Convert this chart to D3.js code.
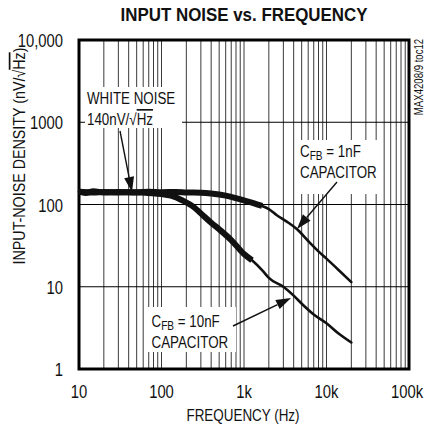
<!DOCTYPE html>
<html>
<head>
<meta charset="utf-8">
<script src="https://cdn.jsdelivr.net/npm/d3@7"></script>
<style>
  body { margin: 0; background: #fff; }
  svg text { font-family: "Liberation Sans", Arial, sans-serif; fill: #111; }
</style>
</head>
<body>
<script>
// axis ticks and labels
var freqTicks = [10, 100, 1000, 10000, 100000];
var freqLabels = ["10", "100", "1k", "10k", "100k"];
var noiseTicks = [1, 10, 100, 1000, 10000];
var noiseLabels = ["1", "10", "100", "1000", "10,000"];

// C_FB = 1nF curve
var freq1nF  = [10, 12, 15, 20, 30, 50, 70, 100, 150, 200, 300, 400, 500, 700, 1000, 1300, 1660, 2000, 2500, 3300, 4400, 6000, 8300, 10000, 14000, 20000];
var noise1nF = [143, 138, 145, 140, 142, 140, 143, 141, 142, 140, 139, 136, 132, 124, 112, 104, 96, 88, 74, 62, 50, 36, 26, 22, 16, 11.4];

// C_FB = 10nF curve
var freq10nF  = [10, 15, 20, 30, 50, 70, 100, 130, 180, 250, 300, 400, 500, 700, 1000, 1250, 1700, 2000, 3000, 4000, 5200, 7000, 10000, 14000, 20000];
var noise10nF = [143, 140, 142, 140, 141, 138, 134, 128, 112, 92, 78, 60, 50, 37, 25, 21, 15.5, 12.8, 10, 7.8, 6.0, 4.6, 3.6, 2.7, 2.1];

// where the measured trace stops being a wide noisy band
var noisyEnd1nF = 1700;
var noisyEnd10nF = 1250;

var w = 424;
var h = 432;

var x = d3.scaleLog().domain([10, 100000]).range([79, 409]);
var y = d3.scaleLog().domain([1, 10000]).range([369, 40]);

var svg = d3.select("body").append("svg")
  .attr("width", w)
  .attr("height", h);

// no narrow font installed, so squeeze the text sideways
function squeeze(g, px, py, sx, rot) {
  return g.append("text")
    .attr("transform", "translate(" + px + "," + py + ")" + (rot ? " rotate(" + rot + ")" : "") + " scale(" + sx + ",1)");
}

// title
squeeze(svg, 244, 20.5, 0.89)
  .attr("text-anchor", "middle")
  .style("font-size", "19px")
  .style("font-weight", "bold")
  .text("INPUT NOISE vs. FREQUENCY");

// vertical grid (every 1..9 per decade)
svg.append("g").selectAll("line")
  .data(x.ticks().filter(function(d) { return d > 10 && d < 100000; }))
  .enter().append("line")
  .attr("x1", d => x(d)).attr("x2", d => x(d))
  .attr("y1", y(10000)).attr("y2", y(1))
  .attr("stroke", "#3a3a3a")
  .attr("stroke-width", 1);

// horizontal grid, decades only
svg.append("g").selectAll("line")
  .data(noiseTicks.slice(1, -1))
  .enter().append("line")
  .attr("x1", x(10)).attr("x2", x(100000))
  .attr("y1", d => y(d)).attr("y2", d => y(d))
  .attr("stroke", "#000")
  .attr("stroke-width", 1);

// white boxes behind the notes
var boxes = [[85, 87, 97, 41], [296, 140, 87, 54], [148, 307, 88, 45]];
svg.append("g").selectAll("rect")
  .data(boxes)
  .enter().append("rect")
  .attr("x", d => d[0]).attr("y", d => d[1])
  .attr("width", d => d[2]).attr("height", d => d[3])
  .attr("fill", "#fff");

// frame
svg.append("rect")
  .attr("x", x(10)).attr("y", y(10000))
  .attr("width", x(100000) - x(10))
  .attr("height", y(1) - y(10000))
  .attr("fill", "none")
  .attr("stroke", "#000")
  .attr("stroke-width", 3);

// tick labels
var xLab = svg.append("g");
freqTicks.forEach(function(d, i) {
  squeeze(xLab, Math.min(x(d), 407), 398, 0.78)
    .attr("text-anchor", "middle")
    .style("font-size", "19px")
    .text(freqLabels[i]);
});

var yLab = svg.append("g");
noiseTicks.forEach(function(d, i) {
  squeeze(yLab, 63, y(d) + 7, 0.78)
    .attr("text-anchor", "end")
    .style("font-size", "19px")
    .text(noiseLabels[i]);
});

// axis titles
squeeze(svg, 243, 421, 0.79)
  .attr("text-anchor", "middle")
  .style("font-size", "17px")
  .text("FREQUENCY (Hz)");

var yTitle = squeeze(svg, 25, 156, 0.84, -90)
  .attr("text-anchor", "middle")
  .style("font-size", "17px");
yTitle.append("tspan").text("INPUT-NOISE DENSITY (nV/√");
yTitle.append("tspan").style("text-decoration", "overline").text("Hz");
yTitle.append("tspan").text(")");

// side note
squeeze(svg, 422.5, 77, 0.8, -90)
  .attr("text-anchor", "middle")
  .style("font-size", "12px")
  .text("MAX4208/9 toc12");

// curves
var line = d3.line()
  .x(d => x(d.f))
  .y(d => y(d.v))
  .curve(d3.curveMonotoneX);

function pairs(fs, vs) {
  return fs.map(function(f, i) { return {f: f, v: vs[i]}; });
}

var curves = [
  {pts: pairs(freq1nF, noise1nF), end: noisyEnd1nF},
  {pts: pairs(freq10nF, noise10nF), end: noisyEnd10nF}
];

curves.forEach(function(c) {
  svg.append("path")
    .attr("d", line(c.pts.filter(d => d.f <= c.end)))
    .attr("fill", "none")
    .attr("stroke", "#111")
    .attr("stroke-width", 6)
    .attr("stroke-linejoin", "round");
  svg.append("path")
    .attr("d", line(c.pts))
    .attr("fill", "none")
    .attr("stroke", "#111")
    .attr("stroke-width", 2.6)
    .attr("stroke-linecap", "round");
});

// notes
function note(x0, y0, lines) {
  var t = squeeze(svg, x0, y0, 0.81).style("font-size", "16.5px");
  lines.forEach(function(l, i) {
    var tl = t.append("tspan").attr("x", 0).attr("y", i * 21.5);
    l.forEach(function(part) {
      var s = tl.append("tspan").text(part.t);
      if (part.sub) s.attr("dy", 3).style("font-size", "12.5px");
      if (part.back) s.attr("dy", -3);
      if (part.over) s.style("text-decoration", "overline");
    });
  });
}

note(87, 104, [[{t: "WHITE NOISE"}], [{t: "140nV/√"}, {t: "Hz", over: true}]]);
note(300, 156.5, [[{t: "C"}, {t: "FB", sub: true}, {t: " = 1nF", back: true}], [{t: "CAPACITOR"}]]);
note(151.5, 326.5, [[{t: "C"}, {t: "FB", sub: true}, {t: " = 10nF", back: true}], [{t: "CAPACITOR"}]]);

// arrows
function arrow(x1, y1, x2, y2) {
  var a = Math.atan2(y2 - y1, x2 - x1);
  var len = 15, half = 5;
  var bx = x2 - len * Math.cos(a), by = y2 - len * Math.sin(a);
  svg.append("line")
    .attr("x1", x1).attr("y1", y1).attr("x2", bx).attr("y2", by)
    .attr("stroke", "#111").attr("stroke-width", 1.4);
  svg.append("polygon")
    .attr("points", [
      [x2, y2],
      [bx + half * Math.sin(a), by - half * Math.cos(a)],
      [bx - half * Math.sin(a), by + half * Math.cos(a)]
    ].map(p => p.join(",")).join(" "))
    .attr("fill", "#111");
}

arrow(120, 131, 132, 192);
arrow(337, 182, 297, 229);
arrow(233, 326, 291, 298);
</script>
</body>
</html>
